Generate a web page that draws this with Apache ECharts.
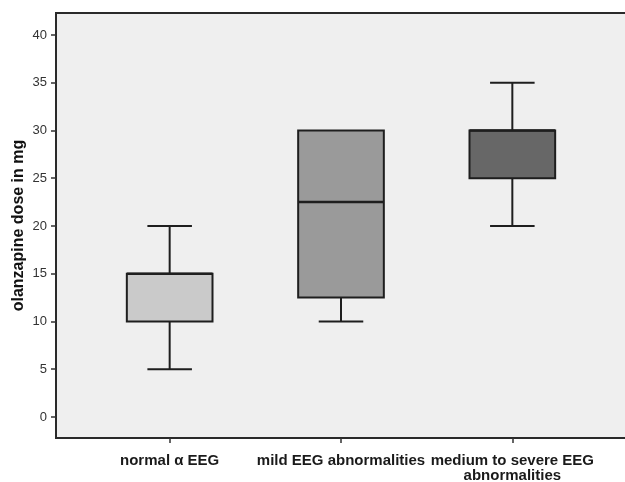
<!DOCTYPE html>
<html>
<head>
<meta charset="utf-8">
<script src="https://cdn.jsdelivr.net/npm/echarts@6/dist/echarts.min.js"></script>
<style>
  html, body { margin: 0; padding: 0; background: #fff; }
  #chart { width: 625px; height: 482px; }
</style>
</head>
<body>
<div id="chart"></div>
<script>
// categories and box statistics
var categories = ['normal α EEG', 'mild EEG abnormalities', 'medium to severe EEG\nabnormalities'];
var whiskerLow = [5, 10, 20];
var q1 = [10, 12.5, 25];
var median = [15, 22.5, 30];
var q3 = [15, 30, 30];
var whiskerHigh = [20, 30, 35];
var yTicks = [0, 5, 10, 15, 20, 25, 30, 35, 40];

var boxColors = ['#cacaca', '#9a9a9a', '#676767'];
var lineColor = '#1e1e1e';

var seriesData = categories.map(function (c, i) {
    return [i, whiskerLow[i], q1[i], median[i], q3[i], whiskerHigh[i]];
});

function renderBox(params, api) {
    var i = api.value(0);
    var band = api.size([1, 0])[0];
    var halfBox = band * 0.25;
    var halfCap = band * 0.13;
    var pLow = api.coord([i, api.value(1)]);
    var pQ1 = api.coord([i, api.value(2)]);
    var pMed = api.coord([i, api.value(3)]);
    var pQ3 = api.coord([i, api.value(4)]);
    var pHigh = api.coord([i, api.value(5)]);
    var x = pLow[0];
    var lineStyle = { stroke: lineColor, lineWidth: 2 };
    var children = [];
    // whiskers
    children.push({ type: 'line', shape: { x1: x, y1: pLow[1], x2: x, y2: pQ1[1] }, style: lineStyle });
    children.push({ type: 'line', shape: { x1: x - halfCap, y1: pLow[1], x2: x + halfCap, y2: pLow[1] }, style: lineStyle });
    if (pHigh[1] < pQ3[1]) {
        children.push({ type: 'line', shape: { x1: x, y1: pQ3[1], x2: x, y2: pHigh[1] }, style: lineStyle });
        children.push({ type: 'line', shape: { x1: x - halfCap, y1: pHigh[1], x2: x + halfCap, y2: pHigh[1] }, style: lineStyle });
    }
    // box
    children.push({
        type: 'rect',
        shape: { x: x - halfBox, y: pQ3[1], width: halfBox * 2, height: pQ1[1] - pQ3[1] },
        style: { fill: boxColors[params.dataIndex], stroke: lineColor, lineWidth: 2 }
    });
    // median
    children.push({
        type: 'line',
        shape: { x1: x - halfBox, y1: pMed[1], x2: x + halfBox, y2: pMed[1] },
        style: { stroke: lineColor, lineWidth: 2.5 }
    });
    return { type: 'group', children: children };
}

var myChart = echarts.init(document.getElementById('chart'));
var option = {
    animation: false,
    grid: [
        {
            left: 56, right: -10, top: 13, bottom: 44,
            outerBoundsMode: 'none',
            containLabel: false,
            show: true,
            backgroundColor: '#efefef',
            borderColor: '#2a2a2a',
            borderWidth: 2
        },
        {
            left: 84, right: 27, top: 13, bottom: 44,
            outerBoundsMode: 'none',
            containLabel: false
        }
    ],
    xAxis: [
        { type: 'value', gridIndex: 0, show: false },
        {
            type: 'category',
            gridIndex: 1,
            data: categories,
            axisLine: { show: false, onZero: false },
            axisTick: { show: true, alignWithLabel: true, length: 5, lineStyle: { color: '#333', width: 1.5 } },
            axisLabel: {
                margin: 15,
                interval: 0,
                color: '#1a1a1a',
                fontFamily: 'Liberation Sans',
                fontWeight: 'bold',
                fontSize: 15,
                lineHeight: 15
            }
        }
    ],
    yAxis: [
        {
            type: 'value',
            gridIndex: 0,
            min: -2.2,
            max: 42.3,
            name: 'olanzapine dose in mg',
            nameLocation: 'middle',
            nameGap: 29,
            nameMoveOverlap: false,
            nameTextStyle: { fontFamily: 'Liberation Sans', fontWeight: 'bold', fontSize: 16, color: '#111' },
            axisLine: { show: true, lineStyle: { color: '#2a2a2a', width: 2 } },
            axisTick: { show: true, length: 5, customValues: yTicks, lineStyle: { color: '#333', width: 1.5 } },
            axisLabel: { customValues: yTicks, margin: 9, color: '#333', fontFamily: 'Liberation Sans', fontSize: 13 },
            splitLine: { show: false }
        },
        {
            type: 'value',
            gridIndex: 1,
            min: -2.2,
            max: 42.3,
            show: false,
            splitLine: { show: false }
        }
    ],
    series: [
        {
            type: 'custom',
            xAxisIndex: 1,
            yAxisIndex: 1,
            renderItem: renderBox,
            encode: { x: 0, y: [1, 2, 3, 4, 5] },
            data: seriesData
        }
    ]
};
myChart.setOption(option);
</script>
</body>
</html>
